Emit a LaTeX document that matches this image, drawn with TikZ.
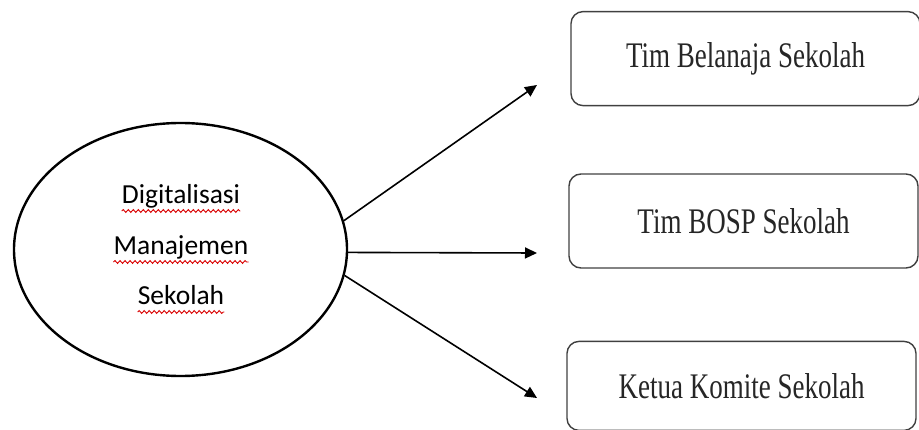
\documentclass[tikz,border=0pt]{standalone}
\usepackage{fontspec}
\setmainfont{Liberation Serif}
\newfontfamily\calibri{Carlito}
\usepackage{graphicx}
\usetikzlibrary{shapes.geometric,arrows.meta,positioning}
\usetikzlibrary{decorations.pathmorphing}

\tikzset{
  unit/.style={rectangle, rounded corners=12pt, draw=black!75, line width=1.4pt,
    minimum width=349pt, minimum height=94pt, text=black!85},
  word/.style={inner sep=0pt, anchor=base, font=\calibri\fontsize{27.5}{30}\selectfont},
  typo/.style={draw=red!85!black, line width=0.9pt, decorate,
    decoration={snake, amplitude=1.4pt, segment length=5pt}}
}
\newcommand{\boxtext}[1]{\scalebox{0.75}[1]{\fontsize{36}{40}\selectfont #1}}

\begin{document}
\begin{tikzpicture}[x=1pt,y=-1pt,>={Triangle[length=12pt,width=11pt]}]
    \useasboundingbox (0,0) rectangle (919,430);
    \node[ellipse, draw, line width=2.4pt, minimum width=333pt, minimum height=253pt] (dms) at (180.5,249.5) {};
    \node[word] (w1) at (181,204) {Digitalisasi};
    \node[word] (w2) at (181,255) {Manajemen};
    \node[word] (w3) at (181,305) {Sekolah};
    \node[unit] (b2) at (743.5,221)                          {\boxtext{Tim BOSP Sekolah}};
    \node[unit] (b1) [above=67pt of b2, xshift=2pt]            {\boxtext{Tim Belanaja Sekolah}};
    \node[unit, minimum height=89pt] (b3) [below=72pt of b2, xshift=-2pt] {\boxtext{Ketua Komite Sekolah}};
    \coordinate (e1) at (537,85);
    \coordinate (e2) at (537,253);
    \coordinate (e3) at (537,398);
    % spell-check marks
    \draw[typo] ([yshift=-7pt]w1.base west) -- ([yshift=-7pt]w1.base east);
    \draw[typo] ([yshift=-7pt]w2.base west) -- ([yshift=-7pt]w2.base east);
    \draw[typo] ([yshift=-7pt]w3.base west) -- ([yshift=-7pt]w3.base east);
      \path[->, line width=1.6pt]
        (dms.10) edge (e1)
        (dms.-1) edge (e2)
        (dms.-9) edge (e3);
\end{tikzpicture}
\end{document}
